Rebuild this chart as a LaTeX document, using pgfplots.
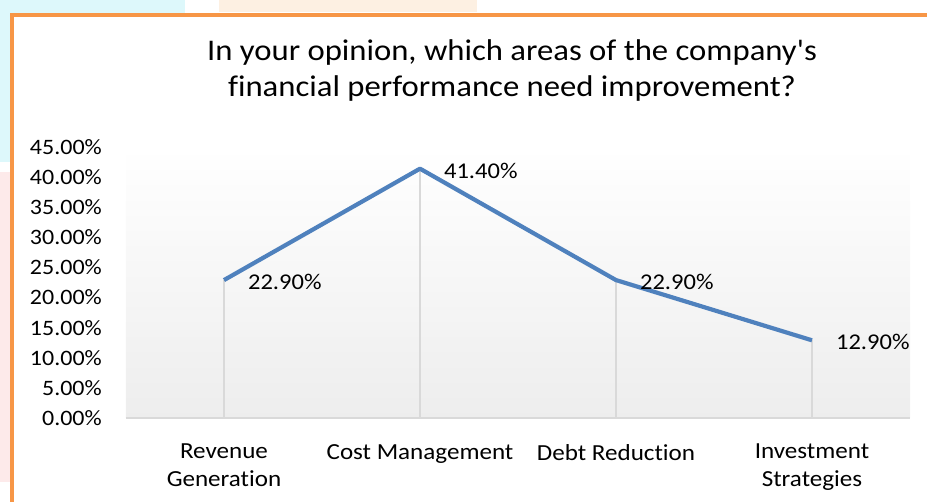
\documentclass[border=0pt]{standalone}
\usepackage{fontspec}
\setmainfont{Carlito}[FakeStretch=1.09,Ligatures={NoCommon,NoContextual,TeXOff}]
\usepackage{pgfplots}
\pgfplotsset{compat=1.18}
\definecolor{linecol}{HTML}{4F81BD}
\definecolor{framecol}{HTML}{F79646}
\definecolor{dropg}{HTML}{D9D9D9}
\definecolor{wcyan}{HTML}{DDF8FB}
\definecolor{wpeach}{HTML}{FDF0E2}
\definecolor{wpink}{HTML}{FDEAEA}

\begin{document}
\begin{tikzpicture}[x=1pt,y=1pt]
\useasboundingbox (0,0) rectangle (927,502);
% faint page background around the frame
\fill[wcyan] (0,489) rectangle (185,502);
\fill[wpeach] (219,490) rectangle (477,502);
\fill[wcyan] (0,340) rectangle (10,489);
\fill[wpink] (0,20) rectangle (10,330);
\draw[framecol,line width=4] (12,0) -- (12,487) -- (927,487);
\node[font=\fontsize{30}{36}\selectfont,align=center] at (512,431)
  {In your opinion, which areas of the company's\\financial performance need improvement?};
\begin{axis}[
  scale only axis,width=784pt,height=271pt,
  at={(126pt,84pt)},anchor=south west,
  xmin=-0.5,xmax=3.5,ymin=0,ymax=45,
  xtick={0,1,2,3},
  xticklabels={Revenue\\Generation,Cost Management,Debt Reduction,Investment\\Strategies},
  ytick={0,5,...,45},
  /pgf/number format/assume math mode=true,
  yticklabel={\pgfmathprintnumber[fixed,fixed zerofill,precision=2]{\tick}\%},
  axis x line*=bottom,axis y line*=left,
  x axis line style={-,dropg,line width=1.3pt},
  y axis line style={draw=none},
  major tick length=0,
  tick label style={font=\fontsize{22}{28}\selectfont,text=black,inner sep=0pt},
  yticklabel style={xshift=-24pt},
  xticklabel style={align=center,yshift=-26pt,font=\fontsize{23}{28}\selectfont},
  axis background/.style={top color=white,bottom color=black!7},
  clip=false,
]
\addplot[ycomb,dropg,line width=1.2pt,forget plot] coordinates {
 (0,22.9) (1,41.4) (2,22.9) (3,12.9)};
\addplot[linecol,line width=4.2pt,line join=round,mark=none,
  nodes near coords={\pgfmathprintnumber[fixed,fixed zerofill,precision=2,assume math mode=true]{\pgfplotspointmeta}\%},
  every node near coord/.append style={anchor=west,inner sep=0pt,xshift=22pt,yshift=-2pt,
    font=\fontsize{22.5}{28}\selectfont,text=black}]
 coordinates {(0,22.9) (1,41.4) (2,22.9) (3,12.9)};
\end{axis}
\end{tikzpicture}
\end{document}
